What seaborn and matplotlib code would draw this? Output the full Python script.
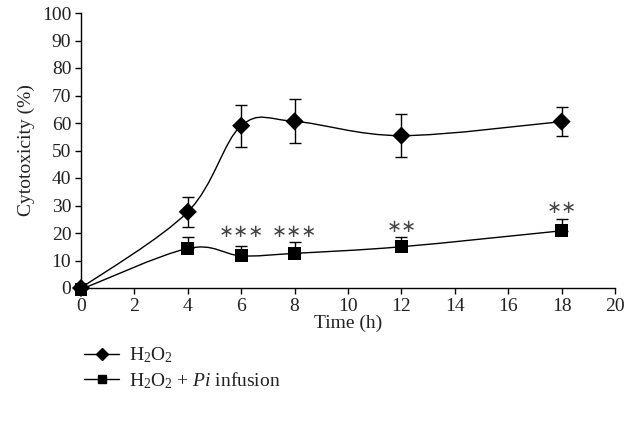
import numpy as np
import pandas as pd
import matplotlib
matplotlib.use("Agg")
import matplotlib.pyplot as plt
from matplotlib.path import Path
from matplotlib.patches import PathPatch
import seaborn as sns

# Donnees
time_h = [0, 4, 6, 8, 12, 18]
h2o2 = [0, 27.7, 59.0, 60.6, 55.4, 60.5]
h2o2_err = [0, 5.5, 7.6, 8.0, 7.8, 5.2]
pi_inf = [-0.5, 14.4, 11.7, 12.6, 15.0, 20.8]
pi_err = [0, 4.0, 3.6, 4.0, 3.7, 4.2]
stars = ["", "", "∗∗∗", "∗∗∗", "∗∗", "∗∗"]
stars_y = [0, 0, 20.5, 20.5, 22.3, 29.0]
labels = [r"H$_2$O$_2$", r"H$_2$O$_2$ + $\mathit{Pi}$ infusion"]

sns.set_style("ticks")
plt.rcParams["font.family"] = ["Liberation Serif", "DejaVu Serif"]
plt.rcParams["mathtext.fontset"] = "custom"
plt.rcParams["mathtext.rm"] = "Liberation Serif"
plt.rcParams["mathtext.it"] = "Liberation Serif:italic"

df = pd.DataFrame({"time": time_h * 2,
                   "val": h2o2 + pi_inf,
                   "serie": [labels[0]] * 6 + [labels[1]] * 6})

fig = plt.figure(figsize=(6.35, 4.25), dpi=100)
ax = fig.add_axes([81 / 635, 1 - 288 / 425, 534 / 635, 275 / 425])


def smooth_path(x, y):
    # courbe lissee facon Excel (Bezier Catmull-Rom)
    pts = np.column_stack([x, y]).astype(float)
    verts = [pts[0]]
    codes = [Path.MOVETO]
    n = len(pts)
    for i in range(n - 1):
        p0 = pts[max(i - 1, 0)]
        p1 = pts[i]
        p2 = pts[i + 1]
        p3 = pts[min(i + 2, n - 1)]
        verts += [p1 + (p2 - p0) / 6, p2 - (p3 - p1) / 6, p2]
        codes += [Path.CURVE4] * 3
    return Path(verts, codes)


for ys in [h2o2, pi_inf]:
    ax.add_patch(PathPatch(smooth_path(time_h, ys), fill=False, lw=1.0,
                           color="black", zorder=2))

ax.errorbar(time_h[1:], h2o2[1:], yerr=h2o2_err[1:], fmt="none", ecolor="black",
            elinewidth=1.0, capsize=4, capthick=1.0, zorder=3)
ax.errorbar(time_h[1:], pi_inf[1:], yerr=[[0] * 5, pi_err[1:]], fmt="none",
            ecolor="black", elinewidth=1.0, capsize=4, capthick=1.0, zorder=3)

sns.scatterplot(data=df, x="time", y="val", hue="serie", style="serie",
                markers={labels[0]: "D", labels[1]: "s"},
                palette={labels[0]: "black", labels[1]: "black"},
                s=85, edgecolor="black", linewidth=0, legend=False,
                ax=ax, zorder=4, clip_on=False)

for t, s, sy in zip(time_h, stars, stars_y):
    if s:
        ax.text(t, sy, s, ha="center", va="center", fontsize=13,
                color="#444444", family="DejaVu Sans")

ax.set_xlim(0, 20)
ax.set_ylim(0, 100)
ax.set_xticks(range(0, 21, 2))
ax.set_yticks(range(0, 101, 10))
ax.tick_params(labelsize=14, length=4, width=1.0, color="black",
               labelcolor="#222222", pad=3)
for sp in ["left", "bottom"]:
    ax.spines[sp].set_linewidth(1.0)
    ax.spines[sp].set_color("black")
sns.despine(ax=ax)

ax.set_xlabel("Time (h)", fontsize=14, color="#222222", labelpad=0)
ax.set_ylabel("Cytotoxicity (%)", fontsize=14, color="#222222", labelpad=5)

handles = [plt.Line2D([], [], color="black", lw=1.0, marker="D", markersize=6),
           plt.Line2D([], [], color="black", lw=1.0, marker="s", markersize=6)]
fig.legend(handles, labels, loc="upper left", bbox_to_anchor=(0.105, 0.228),
           frameon=False, fontsize=14, handlelength=1.8, handletextpad=0.5,
           labelspacing=0.25, labelcolor="#222222")

plt.savefig("out.png", dpi=100)
plt.close()
